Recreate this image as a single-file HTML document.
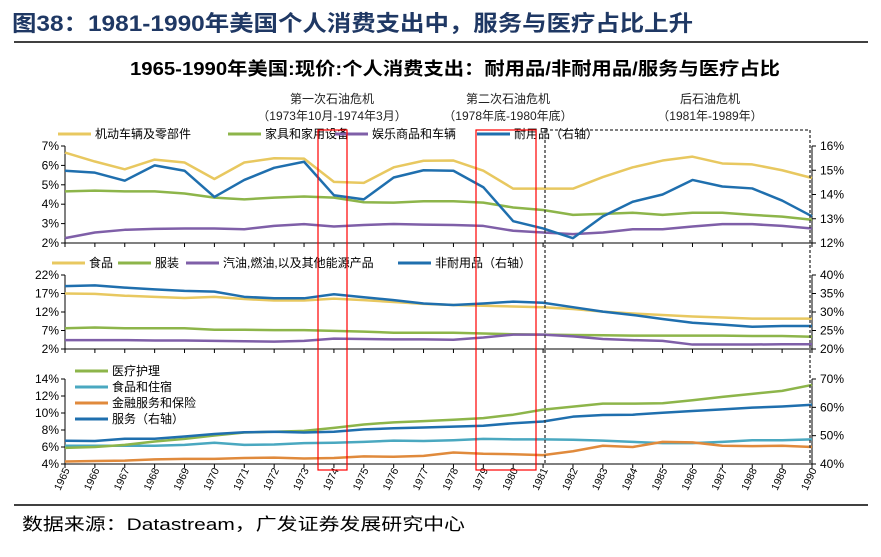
<!DOCTYPE html>
<html><head><meta charset="utf-8"><style>
body{margin:0;width:881px;height:552px;background:#fff;overflow:hidden;font-family:"Liberation Sans","Noto Sans CJK SC",sans-serif}
</style></head><body>
<svg id="c" width="881" height="552" xmlns="http://www.w3.org/2000/svg" font-family="Liberation Sans, Noto Sans CJK SC, sans-serif">
<text x="12" y="31" font-size="22" font-weight="bold" fill="#1f3864" textLength="681" lengthAdjust="spacingAndGlyphs">图38：1981-1990年美国个人消费支出中，服务与医疗占比上升</text>
<line x1="14" y1="42" x2="868" y2="42" stroke="#000" stroke-width="1.5"/>
<text x="130" y="75" font-size="18" font-weight="bold" textLength="650" lengthAdjust="spacingAndGlyphs">1965-1990年美国:现价:个人消费支出：耐用品/非耐用品/服务与医疗占比</text>
<g font-size="12" text-anchor="middle" fill="#222">
<text x="332" y="103">第一次石油危机</text>
<text x="332" y="120">（1973年10月-1974年3月）</text>
<text x="508" y="103">第二次石油危机</text>
<text x="508" y="120">（1978年底-1980年底）</text>
<text x="710" y="103">后石油危机</text>
<text x="710" y="120">（1981年-1989年）</text>
</g>
<line x1="14" y1="505" x2="868" y2="505" stroke="#000" stroke-width="1.5"/>
<text x="22" y="530" font-size="17" textLength="443" lengthAdjust="spacingAndGlyphs">数据来源：Datastream，广发证券发展研究中心</text>
<g id="plots"></g>
</svg>
<script>
const years=[1965,1966,1967,1968,1969,1970,1971,1972,1973,1974,1975,1976,1977,1978,1979,1980,1981,1982,1983,1984,1985,1986,1987,1988,1989,1990];
const autos=[6.66,6.2,5.8,6.3,6.15,5.3,6.15,6.37,6.35,5.15,5.1,5.9,6.24,6.25,5.73,4.8,4.8,4.8,5.4,5.9,6.25,6.45,6.1,6.05,5.75,5.35];
const furniture=[4.66,4.7,4.66,4.66,4.55,4.34,4.25,4.34,4.4,4.34,4.1,4.08,4.15,4.15,4.08,3.83,3.7,3.45,3.5,3.56,3.45,3.56,3.56,3.45,3.36,3.2];
const recreation=[2.25,2.54,2.68,2.73,2.75,2.75,2.71,2.88,2.97,2.85,2.93,2.98,2.95,2.93,2.88,2.63,2.54,2.46,2.54,2.71,2.71,2.85,2.97,2.97,2.88,2.75];
const durables=[14.98,14.9,14.57,15.2,14.98,13.9,14.6,15.1,15.35,13.97,13.8,14.7,15.0,14.98,14.3,12.9,12.6,12.2,13.1,13.7,14.0,14.6,14.33,14.25,13.75,13.1];
const food=[17.0,16.9,16.4,16.1,15.8,16.1,15.5,15.1,15.1,15.6,15.2,14.7,14.2,13.9,13.7,13.5,13.3,12.8,12.1,11.6,11.2,10.8,10.5,10.2,10.2,10.2];
const clothing=[7.6,7.8,7.6,7.6,7.6,7.2,7.2,7.1,7.1,6.9,6.7,6.4,6.4,6.4,6.2,6.0,5.9,5.8,5.7,5.6,5.6,5.6,5.6,5.5,5.5,5.3];
const gasoline=[4.4,4.4,4.4,4.3,4.3,4.2,4.1,4.0,4.2,4.8,4.7,4.6,4.6,4.5,5.1,5.9,5.9,5.4,4.7,4.4,4.2,3.2,3.2,3.2,3.3,3.3];
const nondurables=[37.0,37.2,36.6,36.1,35.7,35.5,34.1,33.7,33.7,34.8,34.0,33.2,32.3,31.9,32.3,32.8,32.5,31.3,30.1,29.2,28.1,27.1,26.6,26.0,26.2,26.2];
const medical=[5.9,6.0,6.25,6.65,6.95,7.35,7.7,7.8,7.9,8.25,8.65,8.9,9.05,9.2,9.4,9.8,10.4,10.75,11.1,11.1,11.15,11.5,11.9,12.25,12.6,13.3];
const foodLodging=[6.15,6.15,6.15,6.15,6.25,6.5,6.25,6.3,6.45,6.5,6.6,6.75,6.7,6.8,6.95,6.9,6.9,6.85,6.75,6.6,6.45,6.45,6.6,6.8,6.8,6.9];
const finance=[4.3,4.35,4.4,4.55,4.6,4.6,4.7,4.75,4.65,4.7,4.9,4.85,4.95,5.35,5.2,5.15,5.05,5.5,6.15,6.0,6.6,6.55,6.15,6.1,6.15,6.0];
const services=[48.2,48.1,48.9,48.9,49.7,50.6,51.2,51.4,51.1,51.4,52.2,52.6,52.9,53.2,53.5,54.4,55.0,56.7,57.3,57.4,58.1,58.7,59.3,59.9,60.3,60.9];
const ticks1L=["2%","3%","4%","5%","6%","7%"],ticks1R=["12%","13%","14%","15%","16%"];
const ticks2L=["2%","7%","12%","17%","22%"],ticks2R=["20%","25%","30%","35%","40%"];
const ticks3L=["4%","6%","8%","10%","12%","14%"],ticks3R=["40%","50%","60%","70%"];

const NS="http://www.w3.org/2000/svg",G=document.getElementById('plots');
const X0=65,X1=812;
function x(i){return X0+(X1-X0)*i/(years.length-1);}
function mk(t,a,p){const e=document.createElementNS(NS,t);for(const k in a)e.setAttribute(k,a[k]);(p||G).appendChild(e);return e;}
function axis(lo,hi,top,bot){return v=>bot-(v-lo)/(hi-lo)*(bot-top);}
const YEL="#e8c860",GRN="#8db54a",PUR="#7f5fa8",BLU="#1f6fae",TEAL="#4aa8c0",ORG="#e08a3c";
function panel(name,top,bot,lL,hL,tL,lR,hR,tR,series,legend,legendVertical){
  const yl=axis(lL,hL,top,bot),yr=axis(lR,hR,top,bot);
  let e=mk('line',{x1:X0,y1:top,x2:X0,y2:bot,stroke:'#000','stroke-width':1});
  
  
  e=mk('line',{x1:X1,y1:top,x2:X1,y2:bot,stroke:'#000','stroke-width':1});
  
  
  e=mk('line',{x1:X0,y1:bot,x2:X1,y2:bot,stroke:'#000','stroke-width':1});
  
  
  years.forEach((y,i)=>{mk('line',{x1:x(i),y1:bot,x2:x(i),y2:bot+4,stroke:'#000'});});
  tL.forEach(t=>{const v=parseFloat(t),yy=yl(v);
    mk('line',{x1:X0-4,y1:yy,x2:X0,y2:yy,stroke:'#000'});
    const tx=mk('text',{x:X0-6,y:yy+4,'font-size':12,'text-anchor':'end'});tx.textContent=t;
    
    });
  tR.forEach(t=>{const v=parseFloat(t),yy=yr(v);
    mk('line',{x1:X1,y1:yy,x2:X1+4,y2:yy,stroke:'#000'});
    const tx=mk('text',{x:X1+8,y:yy+4,'font-size':12});tx.textContent=t;
    
    });
  series.forEach(s=>{const f=s.right?yr:yl;
    const p=mk('polyline',{points:s.d.map((v,i)=>x(i)+','+f(v)).join(' '),fill:'none',stroke:s.c,'stroke-width':2.5,'stroke-linejoin':'round'});
    
    });
  legend.forEach((l,k)=>{
    const lx=legendVertical?75:l.x, ly=legendVertical?l.y:top-12;
    mk('line',{x1:lx,y1:ly,x2:lx+33,y2:ly,stroke:l.c,'stroke-width':3});
    const tx=mk('text',{x:lx+37,y:ly+4,'font-size':12});tx.textContent=l.t;
    
    });
}
panel('top',146,243,2,7,ticks1L,12,16,ticks1R,
 [{d:autos,c:YEL,n:'autos-line'},{d:furniture,c:GRN,n:'furniture-line'},{d:recreation,c:PUR,n:'recreation-line'},{d:durables,c:BLU,n:'durables-line',right:true}],
 [{x:58,t:'机动车辆及零部件',c:YEL},{x:228,t:'家具和家用设备',c:GRN},{x:335,t:'娱乐商品和车辆',c:PUR},{x:477,t:'耐用品（右轴）',c:BLU}]);
panel('middle',275,349,2,22,ticks2L,20,40,ticks2R,
 [{d:food,c:YEL,n:'food-line'},{d:clothing,c:GRN,n:'clothing-line'},{d:gasoline,c:PUR,n:'gasoline-line'},{d:nondurables,c:BLU,n:'nondurables-line',right:true}],
 [{x:52,t:'食品',c:YEL},{x:118,t:'服装',c:GRN},{x:186,t:'汽油,燃油,以及其他能源产品',c:PUR},{x:398,t:'非耐用品（右轴）',c:BLU}]);
panel('bottom',379,464,4,14,ticks3L,40,70,ticks3R,
 [{d:foodLodging,c:TEAL,n:'food-lodging-line'},{d:finance,c:ORG,n:'finance-line'},{d:medical,c:GRN,n:'medical-line'},{d:services,c:BLU,n:'services-line',right:true}],
 [{y:371,t:'医疗护理',c:GRN},{y:387,t:'食品和住宿',c:TEAL},{y:403,t:'金融服务和保险',c:ORG},{y:419,t:'服务（右轴）',c:BLU}],true);
years.forEach((y,i)=>{const t=mk('text',{x:0,y:0,'font-size':10.5,'text-anchor':'end',transform:`translate(${x(i)+5},${470}) rotate(-65)`});t.textContent=y;
 
 });
let r=mk('rect',{x:318,y:130,width:29,height:340,fill:'none',stroke:'#f00','stroke-width':1.2});


r=mk('rect',{x:476,y:130,width:60,height:340,fill:'none',stroke:'#f00','stroke-width':1.2});


r=mk('rect',{x:545,y:130,width:265,height:334,fill:'none',stroke:'#333','stroke-width':1.3,'stroke-dasharray':'3,2'});


</script>
</body></html>
